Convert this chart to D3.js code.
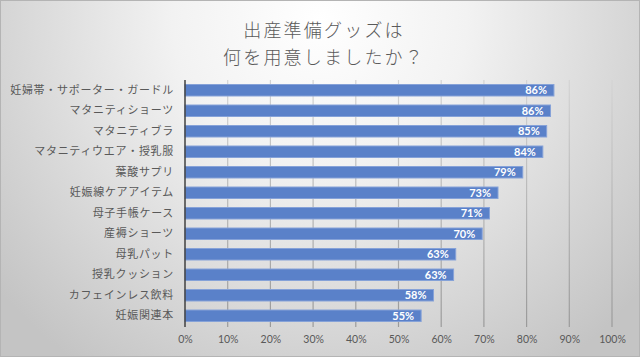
<!DOCTYPE html>
<html><head><meta charset="utf-8">
<script src="https://cdn.jsdelivr.net/npm/d3@7"></script>
<style>html,body{margin:0;padding:0;background:#fff;}svg{display:block;}</style>
</head><body>
<script>
const titleLines = ["出産準備グッズは", "何を用意しましたか？"];
const categories = ["妊婦帯・サポーター・ガードル","マタニティショーツ","マタニティブラ","マタニティウエア・授乳服","葉酸サプリ","妊娠線ケアアイテム","母子手帳ケース","産褥ショーツ","母乳パット","授乳クッション","カフェインレス飲料","妊娠関連本"];
const values = [86.4, 85.6, 84.7, 83.8, 79.1, 73.3, 71.3, 69.6, 63.4, 62.9, 58.2, 55.3];
const tickValues = [0,10,20,30,40,50,60,70,80,90,100];

const W = 640, H = 357;
const svg = d3.select("body").append("svg").attr("width", W).attr("height", H);
const defs = svg.append("defs");
const rg = defs.append("radialGradient").attr("id","bg").attr("gradientUnits","userSpaceOnUse")
  .attr("cx", 320).attr("cy", 20).attr("r", 420);
rg.append("stop").attr("offset","0%").attr("stop-color","#ffffff");
rg.append("stop").attr("offset","35%").attr("stop-color","#f2f2f2");
rg.append("stop").attr("offset","100%").attr("stop-color","#c4c4c4");
const gg = defs.append("linearGradient").attr("id","grid").attr("gradientUnits","userSpaceOnUse")
  .attr("x1",0).attr("y1",80).attr("x2",0).attr("y2",327);
gg.append("stop").attr("offset","0%").attr("stop-color","#d4d4d4");
gg.append("stop").attr("offset","100%").attr("stop-color","#9a9a9a");

svg.append("rect").attr("width",W).attr("height",H).attr("fill","url(#bg)");
svg.append("rect").attr("x",0.5).attr("y",0.5).attr("width",W-1).attr("height",H-1)
  .attr("fill","none").attr("stroke","#b4b4b4");

// title
svg.append("g").selectAll("text").data(titleLines).join("text")
  .attr("x", 324).attr("y",(d,i)=>37+i*26.5)
  .attr("text-anchor","middle")
  .attr("font-family","'Noto Sans CJK JP'").attr("font-weight",300)
  .attr("font-size",18).attr("letter-spacing",2.2)
  .attr("fill","#595959").text(d=>d);

const x = d3.scaleLinear().domain([0,100]).range([185, 612]);
const y = d3.scaleBand().domain(categories).range([80, 326]).paddingInner(0.44).paddingOuter(0.22);

// grid
svg.append("g").selectAll("line").data(tickValues.filter(d=>d>0)).join("line")
  .attr("x1",d=>x(d)).attr("x2",d=>x(d)).attr("y1",80).attr("y2",327)
  .attr("stroke","url(#grid)").attr("stroke-width",1.2);

// x tick labels
const xAxis = d3.axisBottom(x).tickValues(tickValues).tickFormat(d=>d+"%").tickSize(0).tickPadding(0);
const xg = svg.append("g").attr("transform","translate(0,336)").call(xAxis);
xg.select(".domain").remove();
xg.selectAll("text").attr("font-family","Lato").attr("font-size",10.5).attr("fill","#595959").attr("dy","0.71em");

// bars
svg.append("g").selectAll("rect").data(values).join("rect")
  .attr("x", x(0)).attr("y",(d,i)=>y(categories[i]))
  .attr("width", d=>x(d)-x(0)).attr("height", y.bandwidth())
  .attr("fill","#5a81c9").attr("stroke","#86a2d8").attr("stroke-width",1);

// value labels
svg.append("g").selectAll("text").data(values).join("text")
  .attr("x", d=>x(d)-7).attr("y",(d,i)=>y(categories[i])+y.bandwidth()/2)
  .attr("dy","0.36em").attr("text-anchor","end")
  .attr("font-family","Lato").attr("font-weight","bold").attr("font-size",11)
  .attr("fill","#ffffff").text(d=>Math.round(d)+"%");

// y axis
const yAxis = d3.axisLeft(y).tickSize(0).tickPadding(11);
const yg = svg.append("g").attr("transform",`translate(${x(0)},0)`).call(yAxis);
yg.select(".domain").remove();
yg.selectAll("text").attr("font-family","'Noto Sans CJK JP'").attr("font-size",11)
  .attr("letter-spacing",0.7).attr("fill","#595959");
svg.append("line").attr("x1",x(0)).attr("x2",x(0)).attr("y1",80).attr("y2",327)
  .attr("stroke","#404040").attr("stroke-width",1.5);
</script>
</body></html>
